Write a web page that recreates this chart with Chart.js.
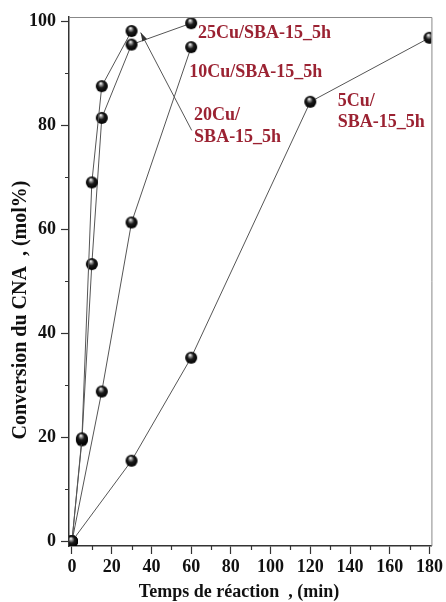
<!DOCTYPE html>
<html><head><meta charset="utf-8">
<script src="https://cdn.jsdelivr.net/npm/chart.js@4/dist/chart.umd.min.js"></script>
<style>html,body{margin:0;padding:0;background:#fff;}#wrap{width:446px;height:602px;}</style>
</head><body><div id="wrap"><canvas id="c" width="446" height="602"></canvas></div>
<script>
// ---- data ----
const time5 = [0, 30, 60, 120, 180];
const conv5 = [0, 15.5, 35.3, 84.5, 96.8];
const time10 = [0, 15, 30, 60];
const conv10 = [0, 28.8, 61.3, 95.0];
const time20 = [0, 5, 10, 15, 30];
const conv20 = [0, 19.8, 69.0, 87.5, 98.1];
const time25 = [0, 5, 10, 15, 30, 60];
const conv25 = [0, 19.4, 53.3, 81.4, 95.5, 99.6];
const xTicks = [0, 20, 40, 60, 80, 100, 120, 140, 160, 180];
const yTicks = [0, 20, 40, 60, 80, 100];
const xMinor = [10, 30, 50, 70, 90, 110, 130, 150, 170];
const yMinor = [10, 30, 50, 70, 90];
const seriesNames = ['5Cu/SBA-15_5h', '10Cu/SBA-15_5h', '20Cu/SBA-15_5h', '25Cu/SBA-15_5h'];
const xTitle = 'Temps de réaction  , (min)';
const yTitle = 'Conversion du CNA  , (mol%)';
// label anchor positions in data units (left edge, middle)
const labelLines = [
  {text: '25Cu/SBA-15_5h', x: 63.5, y: 97.7},
  {text: '10Cu/SBA-15_5h', x: 59.0, y: 90.2},
  {text: '20Cu/', x: 61.5, y: 81.8},
  {text: 'SBA-15_5h', x: 61.5, y: 77.6},
  {text: '5Cu/', x: 133.8, y: 84.6},
  {text: 'SBA-15_5h', x: 133.8, y: 80.6}
];
const arrowFrom = {x: 60.3, y: 79.0};
const arrowTo = {x: 34.6, y: 97.8};

// ---- sphere marker ----
function makeSphere(r) {
  const c = document.createElement('canvas');
  const s = r * 2 + 2;
  c.width = s; c.height = s;
  const g = c.getContext('2d');
  const cx = s / 2, cy = s / 2;
  const grd = g.createRadialGradient(cx - r * 0.2, cy - r * 0.5, 0.3, cx, cy, r);
  grd.addColorStop(0, '#ffffff');
  grd.addColorStop(0.2, '#9a9a9a');
  grd.addColorStop(0.5, '#1c1c1c');
  grd.addColorStop(1, '#000');
  g.fillStyle = grd;
  g.beginPath(); g.arc(cx, cy, r, 0, Math.PI * 2); g.fill();
  return c;
}
const sphere = makeSphere(6);

function pts(xs, ys) { return xs.map((x, i) => ({x: x, y: ys[i]})); }
function ds(label, xs, ys) {
  return {label: label, data: pts(xs, ys), showLine: true, borderColor: '#555', borderWidth: 1,
    pointStyle: sphere, pointRadius: 6, pointHoverRadius: 6, tension: 0};
}

const FONT = '"Liberation Serif", "Times New Roman", serif';

const deco = {
  id: 'deco',
  afterDraw(chart) {
    const ctx = chart.ctx, xs = chart.scales.x, ys = chart.scales.y, a = chart.chartArea;
    ctx.save();
    // frame top/right
    ctx.strokeStyle = '#888'; ctx.lineWidth = 1;
    ctx.beginPath();
    ctx.moveTo(a.left, a.top + 0.5); ctx.lineTo(a.right + 0.5, a.top + 0.5); ctx.lineTo(a.right + 0.5, a.bottom);
    ctx.stroke();
    // minor ticks
    ctx.strokeStyle = '#333'; ctx.lineWidth = 1.2;
    ctx.beginPath();
    xMinor.forEach(v => { const p = Math.round(xs.getPixelForValue(v)) + 0.5; ctx.moveTo(p, a.bottom); ctx.lineTo(p, a.bottom + 4); });
    yMinor.forEach(v => { const p = Math.round(ys.getPixelForValue(v)) + 0.5; ctx.moveTo(a.left, p); ctx.lineTo(a.left - 4, p); });
    ctx.stroke();
    // labels
    ctx.fillStyle = '#9b2232';
    ctx.font = 'bold 18px ' + FONT;
    ctx.textAlign = 'left'; ctx.textBaseline = 'middle';
    labelLines.forEach(l => ctx.fillText(l.text, xs.getPixelForValue(l.x), ys.getPixelForValue(l.y)));
    // arrow
    const x1 = xs.getPixelForValue(arrowFrom.x), y1 = ys.getPixelForValue(arrowFrom.y);
    const x2 = xs.getPixelForValue(arrowTo.x), y2 = ys.getPixelForValue(arrowTo.y);
    ctx.strokeStyle = '#555'; ctx.lineWidth = 1;
    ctx.beginPath(); ctx.moveTo(x1, y1); ctx.lineTo(x2, y2); ctx.stroke();
    const ang = Math.atan2(y2 - y1, x2 - x1);
    ctx.fillStyle = '#333';
    ctx.beginPath();
    ctx.moveTo(x2, y2);
    ctx.lineTo(x2 - 9 * Math.cos(ang - 0.3), y2 - 9 * Math.sin(ang - 0.3));
    ctx.lineTo(x2 - 9 * Math.cos(ang + 0.3), y2 - 9 * Math.sin(ang + 0.3));
    ctx.closePath(); ctx.fill();
    // axis titles
    ctx.fillStyle = '#111';
    ctx.font = 'bold 18px ' + FONT;
    ctx.textAlign = 'center'; ctx.textBaseline = 'middle';
    ctx.fillText(xTitle, 239, 592);
    ctx.font = 'bold 20px ' + FONT;
    ctx.translate(21, 310);
    ctx.rotate(-Math.PI / 2);
    ctx.fillText(yTitle, 0, 0);
    ctx.restore();
  }
};

new Chart(document.getElementById('c'), {
  type: 'scatter',
  data: {datasets: [ds(seriesNames[0], time5, conv5), ds(seriesNames[1], time10, conv10), ds(seriesNames[2], time20, conv20), ds(seriesNames[3], time25, conv25)]},
  options: {
    responsive: false, animation: false, devicePixelRatio: 1,
    layout: {padding: {top: 17, right: 11, left: 0, bottom: 0}},
    plugins: {legend: {display: false}, tooltip: {enabled: false}},
    scales: {
      x: {type: 'linear', min: -1.5, max: 181,
        afterBuildTicks: s => { s.ticks = xTicks.map(v => ({value: v})); },
        afterFit: s => { s.height = 56; },
        grid: {drawOnChartArea: false, drawTicks: true, tickLength: 8, tickColor: '#333', tickWidth: 1.2},
        border: {color: '#333', width: 1.5},
        ticks: {color: '#111', font: {family: FONT, size: 18, weight: 'bold'}, padding: 3, maxRotation: 0, autoSkip: false}
      },
      y: {type: 'linear', min: -0.9, max: 100.8,
        afterBuildTicks: s => { s.ticks = yTicks.map(v => ({value: v})); },
        afterFit: s => { s.width = 69; },
        grid: {drawOnChartArea: false, drawTicks: true, tickLength: 8, tickColor: '#333', tickWidth: 1.2},
        border: {color: '#333', width: 1.5},
        ticks: {color: '#111', font: {family: FONT, size: 18, weight: 'bold'}, padding: 5}
      }
    }
  },
  plugins: [deco]
});
</script></body></html>
